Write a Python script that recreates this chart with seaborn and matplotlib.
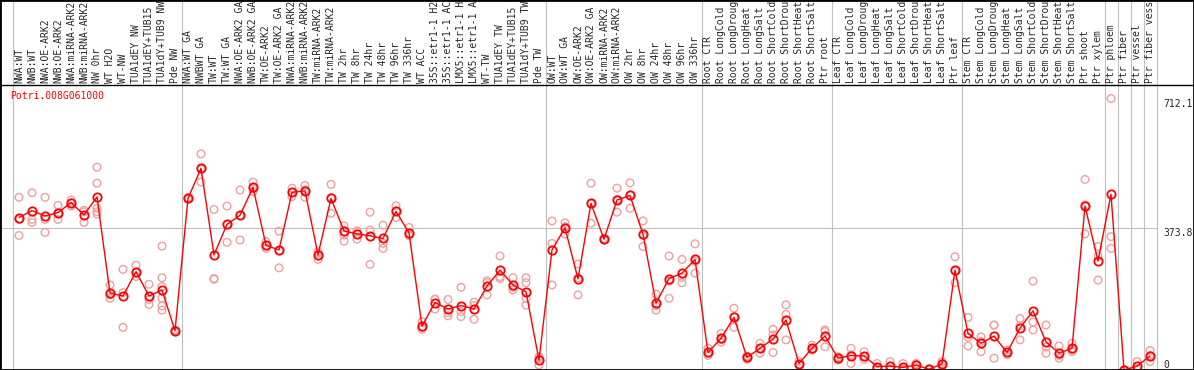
import numpy as np
import pandas as pd
import matplotlib
matplotlib.use("Agg")
import matplotlib.pyplot as plt
import seaborn as sns
from matplotlib.lines import Line2D
from matplotlib.patches import Rectangle

#%% data
gene = "Potri.008G061000"

samples = [
    "NWA:WT", "NWB:WT", "NWA:OE-ARK2", "NWB:OE-ARK2", "NWA:miRNA-ARK2", "NWB:miRNA-ARK2",
    "NW 0hr", "WT H2O", "WT-NW", "TUA1dEY NW", "TUA1dEY+TUB15 NW", "TUA1dY+TUB9 NW", "Pde NW",
    "NWA:WT GA", "NWBWT GA", "TW:WT", "TW:WT GA", "NWA:OE-ARK2 GA", "NWB:OE-ARK2 GA",
    "TW:OE-ARK2", "TW:OE-ARK2 GA", "NWA:miRNA-ARK2 GA", "NWB:miRNA-ARK2 GA", "TW:miRNA-ARK2",
    "TW:miRNA-ARK2 GA", "TW 2hr", "TW 8hr", "TW 24hr", "TW 48hr", "TW 96hr", "TW 336hr",
    "WT ACC", "35S::etr1-1 H2O", "35S::etr1-1 ACC", "LMX5::etr1-1 H2O", "LMX5::etr1-1 ACC",
    "WT-TW", "TUA1dEY TW", "TUA1dEY+TUB15 TW", "TUA1dY+TUB9 TW", "Pde TW",
    "OW:WT", "OW:WT GA", "OW:OE-ARK2", "OW:OE-ARK2 GA", "OW:miRNA-ARK2", "OW:miRNA-ARK2 GA",
    "OW 2hr", "OW 8hr", "OW 24hr", "OW 48hr", "OW 96hr", "OW 336hr",
    "Root CTR", "Root LongCold", "Root LongDrought", "Root LongHeat", "Root LongSalt",
    "Root ShortCold", "Root ShortDrought", "Root ShortHeat", "Root ShortSalt", "Ptr root",
    "Leaf CTR", "Leaf LongCold", "Leaf LongDrought", "Leaf LongHeat", "Leaf LongSalt",
    "Leaf ShortCold", "Leaf ShortDrought", "Leaf ShortHeat", "Leaf ShortSalt", "Ptr leaf",
    "Stem CTR", "Stem LongCold", "Stem LongDrought", "Stem LongHeat", "Stem LongSalt",
    "Stem ShortCold", "Stem ShortDrought", "Stem ShortHeat", "Stem ShortSalt", "Ptr shoot",
    "Ptr xylem", "Ptr phloem", "Ptr fiber", "Ptr vessel", "Ptr fiber vessel",
]

means = [
    400, 418, 404, 413, 439, 407, 454, 202, 194, 258, 194, 210, 103,
    450, 529, 302, 382, 406, 479, 327, 315, 466, 470, 302, 450, 365, 357, 352, 345, 416, 360,
    115, 177, 160, 169, 160, 220, 262, 223, 205, 26,
    315, 373, 239, 437, 343, 446, 458, 356, 175, 240, 254, 290,
    46, 83, 138, 33, 57, 81, 131, 17, 57, 89,
    31, 38, 37, 9, 10, 7, 13, 2, 16, 262,
    96, 70, 89, 46, 110, 155, 74, 44, 57, 430, 286,
    461, 0, 10, 37,
]

reps = [
    [453, 353, 395], [465, 395, 387], [453, 395, 361], [432, 395, 412], [446, 430, 439],
    [415, 387, 419], [532, 490, 424, 415, 409], [223, 197, 188], [264, 203, 112],
    [275, 245, 256], [225, 185, 172], [325, 242, 219, 188, 168, 157], [100, 105, 104],
    [452, 448, 450], [567, 493, 527], [421, 240, 238], [430, 335, 381], [472, 341, 405],
    [493, 468, 476], [319, 325, 337], [364, 268, 313], [477, 455, 466], [484, 453, 473],
    [290, 310, 306], [487, 411, 452], [378, 338, 354], [365, 343, 362], [414, 367, 277],
    [380, 332, 319], [431, 400, 417], [374, 352, 355],
    [127, 107, 112], [185, 160, 186], [185, 150, 142], [217, 153, 140], [178, 133, 169],
    [234, 197, 229], [299, 240, 245], [242, 210, 217], [242, 229, 188, 170], [35, 13, 30],
    [391, 332, 223], [386, 357, 376], [278, 197, 242], [490, 385, 436], [343, 345, 341],
    [477, 414, 447], [491, 424, 459], [391, 324, 353], [199, 157, 169], [299, 188, 233],
    [290, 229, 243], [331, 254, 285],
    [57, 38, 43], [96, 80, 73], [162, 112, 140], [37, 28, 34], [70, 44, 57],
    [107, 92, 46], [171, 146, 79], [23, 13, 15], [65, 52, 54], [105, 61, 101],
    [35, 26, 32], [57, 17, 40], [48, 28, 35], [17, 5, 5], [22, 4, 4],
    [17, 2, 2], [17, 7, 15], [2, 1, 3], [22, 9, 17], [297, 229, 260],
    [138, 86, 63], [87, 48, 75], [118, 31, 118], [52, 40, 46], [135, 79, 116],
    [233, 126, 105], [118, 44, 60], [63, 31, 38], [70, 48, 53], [500, 357, 433],
    [324, 299, 236],
    [712.1, 350, 319], [0, 0, 0], [22, 4, 4], [51, 22, 38],
]

# separators between sample groups (between columns)
group_breaks = [-0.5, 12.5, 40.5, 52.5, 62.5, 72.5, 83.5, 84.5, 85.5, 86.5, 87.5]

rep_df = pd.DataFrame([(i, v) for i, r in enumerate(reps) for v in r], columns=["sample", "value"])
mean_df = pd.DataFrame({"sample": np.arange(len(samples)), "value": means})

ymax = rep_df["value"].max()
mid = np.floor(ymax * 1.05 / 2 * 10) / 10
top = 2 * mid

#%% figure
sns.set_style("white")
plt.rcParams["font.family"] = ["DejaVu Sans Mono"]

W, H = 1194, 370
plot_h = 285
fig = plt.figure(figsize=(W / 100, H / 100), dpi=100)
ax = fig.add_axes([1 / W, 0, (1156.5 - 1) / W, plot_h / H])

sns.scatterplot(data=rep_df, x="sample", y="value", marker="o", s=30,
                facecolor="none", edgecolor="#f0a0a0", linewidth=1, ax=ax, zorder=2)
sns.lineplot(data=mean_df, x="sample", y="value", color="red", lw=1, marker="o",
             markersize=6, markeredgecolor="red", markeredgewidth=1.3, ax=ax, zorder=3)
ax.lines[-1].set_markerfacecolor("none")

ax.set_xlim((1 - 19) / 13, 87.5)
ax.set_ylim(0, top)
ax.set_xlabel("")
ax.set_ylabel("")

ax.set_xticks(range(len(samples)))
ax.set_xticklabels(samples, rotation=90, fontsize=7)
ax.xaxis.tick_top()
ax.tick_params(axis="x", length=0, pad=1.5)
ax.set_yticks([])
for s in ax.spines.values():
    s.set_visible(False)

ax.axhline(mid, color="#c0c0c0", lw=0.8, zorder=0)
for b in group_breaks:
    ax.axvline(b, ymin=0, ymax=H / plot_h, color="#c0c0c0", lw=0.8, clip_on=False, zorder=0)

# value labels on the right
ytr = ax.get_yaxis_transform()
ax.text(1.006, 0, "0", transform=ytr, va="bottom", ha="left", fontsize=7)
ax.text(1.006, mid, f"{mid:.1f}", transform=ytr, va="top", ha="left", fontsize=7)
ax.text(1.006, ymax, f"{ymax:.1f}", transform=ytr, va="top", ha="left", fontsize=7)

ax.text(9 / 1155.5, 1 - 6 / plot_h, gene, transform=ax.transAxes, va="top", ha="left",
        fontsize=7, color="red")

fig.add_artist(Line2D([0, 1], [plot_h / H, plot_h / H], color="black", lw=1))
fig.add_artist(Rectangle((0, 0), 1, 1, fill=False, ec="black", lw=2, transform=fig.transFigure))

fig.savefig("out.png", dpi=100)
